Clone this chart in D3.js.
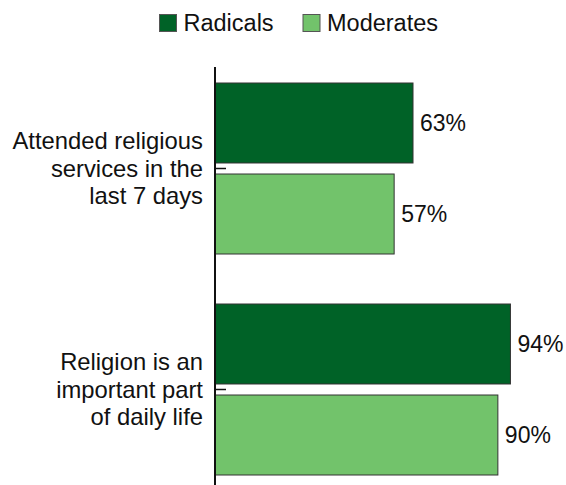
<!DOCTYPE html>
<html><head><meta charset="utf-8">
<script src="https://cdn.jsdelivr.net/npm/d3@7"></script>
<style>body{margin:0;background:#fff}svg{display:block;font-family:"Liberation Sans",Arial,sans-serif}</style>
</head><body><svg id="c" width="566" height="485"></svg>
<script>
const categories = ["Attended religious services in the last 7 days", "Religion is an important part of daily life"];
const categoryLines = [["Attended religious","services in the","last 7 days"],["Religion is an","important part","of daily life"]];
const series = ["Radicals", "Moderates"];
const radicals = [63, 94];
const moderates = [57, 90];
const colors = ["#006227", "#72C36B"];

const svg = d3.select("#c");
const x = d3.scaleLinear().domain([0, 100]).range([215, 529.3]);
const y0 = d3.scaleBand().domain(categories).range([58, 500]);
const y1 = d3.scaleBand().domain(series).range([-85.5, 85.5]).paddingInner(0.121);
const vals = [radicals, moderates];
const FS = 23;

// bars
categories.forEach((c, ci) => {
  const cy = y0(c) + y0.bandwidth() / 2;
  series.forEach((s, si) => {
    const v = vals[si][ci];
    svg.append("rect")
      .attr("x", x(0)).attr("y", cy + y1(s))
      .attr("width", x(v) - x(0)).attr("height", y1.bandwidth())
      .attr("fill", colors[si]).attr("stroke", "#333").attr("stroke-width", 1);
    svg.append("text")
      .attr("x", x(v) + 7).attr("y", cy + y1(s) + y1.bandwidth() / 2)
      .attr("dy", "0.35em").attr("font-size", FS).attr("fill", "#111")
      .text(v + "%");
  });
  const t = svg.append("text").attr("text-anchor", "end").attr("font-size", 23.8).attr("fill", "#111");
  categoryLines[ci].forEach((ln, li) => {
    t.append("tspan").attr("x", 203).attr("y", cy + (li - 1) * 27.5).attr("dy", "0.35em").text(ln);
  });
});

// axis ticks
const ax = svg.append("g").attr("transform", `translate(${x(0)},0)`)
  .call(d3.axisLeft(y0).tickSize(-11).tickSizeOuter(0).tickFormat(""));
ax.select(".domain").remove();
ax.selectAll(".tick line").attr("stroke", "#111").attr("stroke-width", 1.5);
svg.append("line").attr("x1", x(0)).attr("x2", x(0)).attr("y1", 67).attr("y2", 485)
  .attr("stroke", "#111").attr("stroke-width", 2);

// legend
const lx = [159.5, 303];
series.forEach((s, si) => {
  svg.append("rect").attr("x", lx[si]).attr("y", 14.5).attr("width", 17).attr("height", 17)
    .attr("fill", colors[si]).attr("stroke", "#555").attr("stroke-width", 1);
  svg.append("text").attr("x", lx[si] + 24).attr("y", 31)
    .attr("font-size", 23.5).attr("fill", "#111").text(s);
});
</script></body></html>
